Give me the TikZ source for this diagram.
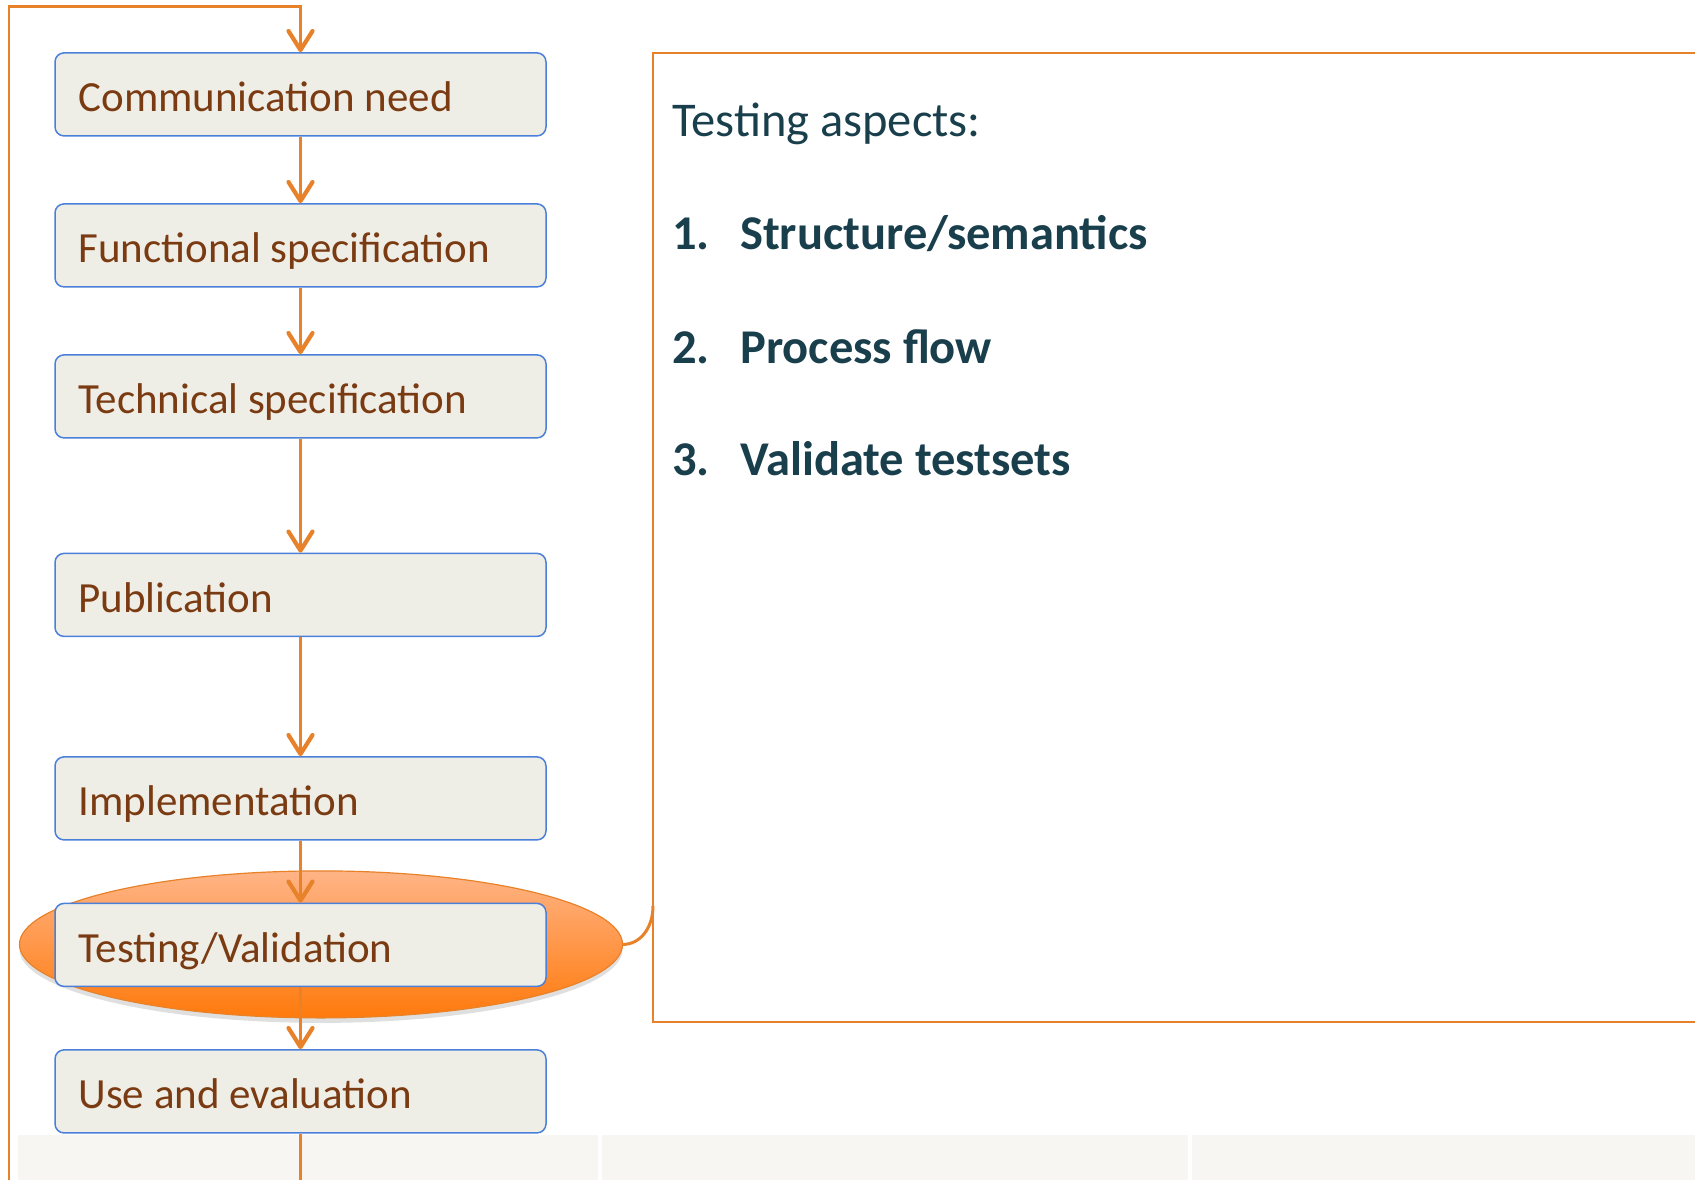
\documentclass[tikz,border=0pt]{standalone}
\usepackage{fontspec}
\setmainfont{Carlito}
\usetikzlibrary{positioning,arrows.meta,shapes.geometric,shadows,backgrounds}

\definecolor{flowline}{HTML}{E8822A}
\definecolor{stageblue}{HTML}{4A80DA}
\definecolor{stagefill}{HTML}{EFEEE6}
\definecolor{stagetext}{HTML}{7A3B12}
\definecolor{aspecttext}{HTML}{1A3F4C}
\definecolor{hltop}{HTML}{FFB486}
\definecolor{hlbottom}{HTML}{FF7A0C}
\definecolor{stripgray}{HTML}{F7F6F3}

\begin{document}
\begin{tikzpicture}[x=1pt, y=-1pt,
    stage/.style={draw=stageblue, fill=stagefill, line width=1.5pt,
        rounded corners=9pt, minimum width=491pt, minimum height=83pt,
        text width=444pt, inner xsep=23.5pt, align=flush left,
        text height=35pt, text depth=0pt,
        text=stagetext, font=\fontsize{43}{50}\selectfont},
    flow/.style={draw=flowline, line width=2.2pt,
        -{Straight Barb[length=19pt, width=24pt, line width=4.2pt, round]}},
    loopline/.style={draw=flowline, line width=2.2pt},
    highlight/.style={ellipse, minimum width=603pt, minimum height=147pt,
        draw=flowline, line width=1.2pt, top color=hltop, bottom color=hlbottom,
        drop shadow={shadow xshift=0pt, shadow yshift=-5pt, opacity=0.25}},
    callout/.style={draw=flowline, line width=3pt},
    frame/.style={draw=flowline, line width=2pt},
    aspect/.style={anchor=base west, inner sep=0pt, text=aspecttext,
        font=\fontsize{48.5}{56}\selectfont},
    item/.style={aspect, font=\fontsize{48.5}{56}\selectfont\bfseries},
    node distance = 66.5pt
    ]
    \useasboundingbox (0,0) rectangle (1695,1180);

    \node[stage] (need) at (300.5,94.4) {Communication need};
    \node[stage, below=of need] (func) {Functional specification};
    \node[stage, below=of func] (tech) {Technical specification};
    \node[stage, below=114pt of tech] (pub) {Publication};
    \node[stage, below=119pt of pub] (impl) {Implementation};
    \node[stage, below=62pt of impl] (test) {Testing/Validation};
    \node[stage, below=62pt of test] (use) {Use and evaluation};

    \begin{scope}[on background layer]
        \fill[stripgray] (18,1135) rectangle (598,1180);
        \fill[stripgray] (602,1135) rectangle (1188,1180);
        \fill[stripgray] (1192,1135) rectangle (1695,1180);
        \node[highlight] (hl) at ([xshift=20.5pt, yshift=0.5pt]test.center) {};
    \end{scope}

    \draw[flow] (need) -- (func);
    \draw[flow] (func) -- (tech);
    \draw[flow] (tech) -- (pub);
    \draw[flow] (pub) -- (impl);
    \draw[flow] (impl) -- (test);
    \draw[flow] (test) -- (use);

    \coordinate (loopin) at (9,1180);
    \coordinate (looptop) at (9,6.5);
    \draw[flow] (loopin) -- (looptop) -| (need.north);
    \draw[loopline] (use) -- (use.south |- loopin);

    \draw[frame] (653,53) rectangle (1700,1022);
    \coordinate (callin) at (653,906);
    \draw[callout] (hl.east) .. controls +(17,0) and +(0,22) .. (callin);

    \node[aspect] (head) at (672,137) {Testing aspects:};
    \node[item] (item1) at (672,249) {\makebox[68pt][l]{1.}Structure/semantics};
    \node[item] (item2) at (672,363) {\makebox[68pt][l]{2.}Process flow};
    \node[item] (item3) at (672,475) {\makebox[68pt][l]{3.}Validate testsets};
\end{tikzpicture}
\end{document}
